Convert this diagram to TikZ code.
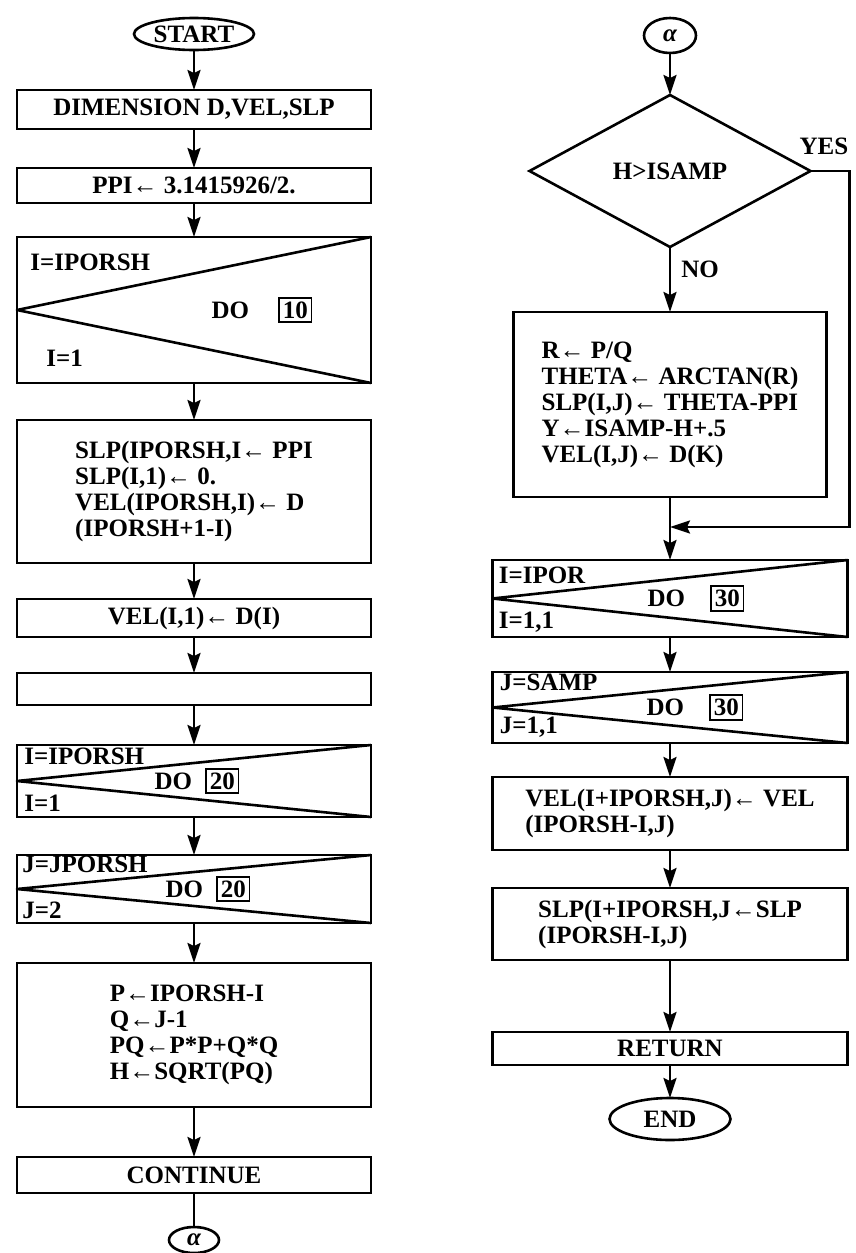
\documentclass[tikz,border=0pt]{standalone}
\usepackage{fontspec}
\setmainfont{Liberation Serif}
\usetikzlibrary{arrows.meta, positioning, shapes.geometric}
\setlength{\fboxsep}{1.5pt}
\setlength{\fboxrule}{0.8pt}

\begin{document}
\begin{tikzpicture}[
          x=1pt, y=1pt, line width=1.3pt,
          font=\fontsize{12.5}{13}\selectfont\bfseries,
          box/.style = {draw, minimum width=177pt, align=left, inner sep=2pt, outer sep=0pt},
          dobox/.style = {draw, minimum width=177pt, outer sep=0pt},
          term/.style = {draw, ellipse, inner sep=0pt, outer sep=0pt},
          cross/.style = {line join=round},
          lbl/.style = {inner sep=0pt},
          >={Stealth[length=10pt, width=6.5pt, inset=1.5pt]}]
        \useasboundingbox (0,0) rectangle (428,-626.5);
        % left column
        \node[term, minimum width=60pt, minimum height=16pt] (start) at (97,-17) {START};
        \node[box, minimum height=19.5pt, below=20pt of start] (dim) {DIMENSION D,VEL,SLP};
        \node[box, minimum height=17.5pt, below=19.5pt of dim] (ppi) {PPI← 3.1415926/2.};
        \node[dobox, minimum height=73pt, below=17pt of ppi] (loopa) {};
        \node[box, minimum height=71.5pt, below=18.5pt of loopa] (slpinit)
              {SLP(IPORSH,I← PPI\\SLP(I,1)← 0.\\VEL(IPORSH,I)← D\\(IPORSH+1-I)};
        \node[box, minimum height=19pt, below=18pt of slpinit] (velinit) {VEL(I,1)← D(I)};
        \node[box, minimum height=16pt, below=18pt of velinit] (blank) {};
        \node[dobox, minimum height=36pt, below=20pt of blank] (loopb) {};
        \node[dobox, minimum height=34pt, below=19pt of loopb] (loopc) {};
        \node[box, minimum height=72pt, below=20pt of loopc] (dist)
              {P←IPORSH-I\\Q←J-1\\PQ←P*P+Q*Q\\H←SQRT(PQ)};
        \node[box, minimum height=18pt, below=25pt of dist] (cont) {CONTINUE};
        \node[term, minimum width=25pt, minimum height=13pt, below=17pt of cont] (conout) {\itshape α};

        % DO 10
        \draw[cross] (loopa.north east) -- (loopa.west) -- (loopa.south east);
        \node[lbl, anchor=west] at ([shift={(6,-12.5)}]loopa.north west) {I=IPORSH};
        \node[lbl, anchor=west] at ([shift={(14,12.5)}]loopa.south west) {I=1};
        \node[lbl] at ([xshift=34]loopa.center) {DO\hspace{14.5pt}\fbox{10}};
        % DO 20, outer
        \draw[cross] (loopb.north east) -- (loopb.west) -- (loopb.south east);
        \node[lbl, anchor=west] at ([shift={(3,-5.5)}]loopb.north west) {I=IPORSH};
        \node[lbl, anchor=west] at ([shift={(3,7)}]loopb.south west) {I=1};
        \node[lbl] at ([xshift=1.5]loopb.center) {DO\hspace{6.5pt}\fbox{20}};
        % DO 20, inner
        \draw[cross] (loopc.north east) -- (loopc.west) -- (loopc.south east);
        \node[lbl, anchor=west] at ([shift={(2,-4.5)}]loopc.north west) {J=JPORSH};
        \node[lbl, anchor=west] at ([shift={(2,6.5)}]loopc.south west) {J=2};
        \node[lbl] at ([xshift=7]loopc.center) {DO\hspace{6.5pt}\fbox{20}};

        \draw[->] (start) -- (dim);
        \draw[->] (dim) -- (ppi);
        \draw[->] (ppi) -- (loopa);
        \draw[->] (loopa) -- (slpinit);
        \draw[->] (slpinit) -- (velinit);
        \draw[->] (velinit) -- (blank);
        \draw[->] (blank) -- (loopb);
        \draw[->] (loopb) -- (loopc);
        \draw[->] (loopc) -- (dist);
        \draw[->] (dist) -- (cont);
        \draw (cont) -- (conout);

        % right column
        \node[term, minimum width=26pt, minimum height=17.5pt] (conin) at (335,-17.75) {\itshape α};
        \node[draw, diamond, inner sep=0pt, outer sep=0pt, minimum width=140.5pt, minimum height=76pt,
              below=21pt of conin] (test) {H>ISAMP};
        \node[box, minimum width=156.5pt, minimum height=92.5pt, below=32.5pt of test] (angle)
              {R← P/Q\\THETA← ARCTAN(R)\\SLP(I,J)← THETA-PPI\\Y←ISAMP-H+.5\\VEL(I,J)← D(K)};
        \coordinate[below=15pt of angle] (merge);
        \node[dobox, minimum width=177.5pt, minimum height=38.5pt, below=31.5pt of angle] (loopd) {};
        \node[dobox, minimum width=177.5pt, minimum height=35.5pt, below=17.5pt of loopd] (loope) {};
        \node[box, minimum width=177.5pt, minimum height=36.5pt, below=17pt of loope] (velmir)
              {VEL(I+IPORSH,J)← VEL\\(IPORSH-I,J)};
        \node[box, minimum width=177.5pt, minimum height=36pt, below=19pt of velmir] (slpmir)
              {SLP(I+IPORSH,J←SLP\\(IPORSH-I,J)};
        \node[box, minimum width=177.5pt, minimum height=16.5pt, below=36pt of slpmir] (ret) {RETURN};
        \node[term, minimum width=60.5pt, minimum height=21pt, below=16.5pt of ret] (stop) {END};

        % DO 30, outer
        \draw[cross] (loopd.north east) -- (loopd.west) -- (loopd.south east);
        \node[lbl, anchor=west] at ([shift={(2.5,-7.5)}]loopd.north west) {I=IPOR};
        \node[lbl, anchor=west] at ([shift={(2.5,7.5)}]loopd.south west) {I=1,1};
        \node[lbl] at ([xshift=13]loopd.center) {DO\hspace{12.5pt}\fbox{30}};
        % DO 30, inner
        \draw[cross] (loope.north east) -- (loope.west) -- (loope.south east);
        \node[lbl, anchor=west] at ([shift={(3,-5)}]loope.north west) {J=SAMP};
        \node[lbl, anchor=west] at ([shift={(3,8)}]loope.south west) {J=1,1};
        \node[lbl] at ([xshift=12.5]loope.center) {DO\hspace{12.5pt}\fbox{30}};

        \draw[->] (conin) -- (test);
        \draw[->] (test) -- node[lbl, right=5pt, pos=0.35] {NO} (angle);
        \draw (angle) -- (merge);
        \draw[->] (test.east) -- ++(19.5,0) node[lbl, anchor=south east, yshift=7.5pt] {YES} |- (merge);
        \draw[->] (merge) -- (loopd);
        \draw[->] (loopd) -- (loope);
        \draw[->] (loope) -- (velmir);
        \draw[->] (velmir) -- (slpmir);
        \draw[->] (slpmir) -- (ret);
        \draw[->] (ret) -- (stop);
\end{tikzpicture}
\end{document}
